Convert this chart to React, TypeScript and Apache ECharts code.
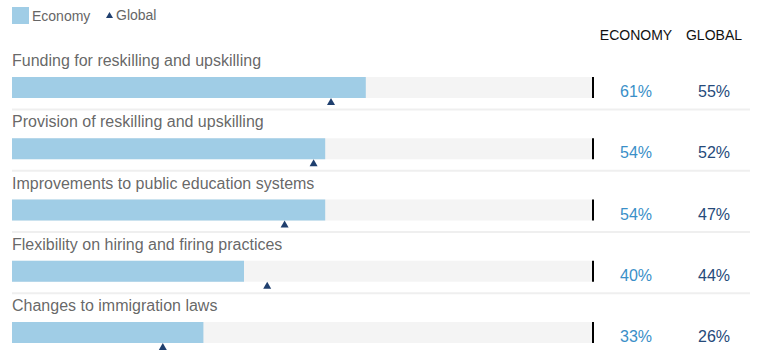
import React, { useEffect, useRef } from "react";
import * as echarts from "echarts";

const categories = [
  "Funding for reskilling and upskilling",
  "Provision of reskilling and upskilling",
  "Improvements to public education systems",
  "Flexibility on hiring and firing practices",
  "Changes to immigration laws",
];
const economyValues = [61, 54, 54, 40, 33];
const globalValues = [55, 52, 47, 44, 26];
const headerLabels = ["ECONOMY", "GLOBAL"];

const FONT = "'Liberation Sans', Arial, Helvetica, sans-serif";

export default function App() {
  const ref = useRef<HTMLDivElement>(null);
  useEffect(() => {
    if (!ref.current) return;
    const chart = echarts.init(ref.current, null, { renderer: "svg" });
    const headers = headerLabels.map((t, i) => ({
      type: "text",
      x: i === 0 ? 636 : 714,
      y: 35,
      style: {
        text: t,
        fill: "#111",
        font: `14px ${FONT}`,
        textAlign: "center",
        textVerticalAlign: "middle",
      },
    }));
    chart.setOption({
      animation: false,
      textStyle: { fontFamily: FONT },
      grid: { left: 12, right: 166, top: 57, height: 306, containLabel: false },
      legend: [
        {
          data: [{ name: "Economy", icon: "rect" }],
          left: 12,
          top: 7,
          padding: 0,
          itemWidth: 17,
          itemHeight: 17,
          itemGap: 0,
          textStyle: { fontSize: 14, color: "#666", fontFamily: FONT, padding: [0, 0, 0, -2] },
          selectedMode: false,
        },
        {
          data: [{ name: "Global", icon: "triangle" }],
          left: 106,
          top: 8,
          padding: 0,
          itemWidth: 7,
          itemHeight: 6,
          textStyle: { fontSize: 14, color: "#666", fontFamily: FONT, padding: [0, 0, 0, -2] },
          selectedMode: false,
        },
      ],
      xAxis: { type: "value", min: 0, max: 100, show: false },
      yAxis: {
        type: "category",
        data: categories,
        inverse: true,
        axisLine: { show: false },
        axisTick: { show: false },
        splitLine: { show: false },
        axisLabel: { show: false },
      },
      graphic: headers,
      series: [
        {
          name: "Economy",
          type: "bar",
          data: economyValues,
          barWidth: 21,
          showBackground: true,
          backgroundStyle: { color: "#f4f4f4" },
          itemStyle: { color: "#a0cde6" },
        },
        {
          name: "Global",
          type: "scatter",
          data: globalValues.map((v, i) => [v, categories[i]]),
          symbol: "triangle",
          symbolSize: [8, 7],
          symbolOffset: [0, 14],
          itemStyle: { color: "#1f3f6e", opacity: 1 },
          z: 6,
        },
        {
          name: "names",
          type: "scatter",
          data: categories.map((c) => [0, c]),
          symbolSize: 0,
          silent: true,
          clip: false,
          label: {
            show: true,
            position: "right",
            distance: 0,
            offset: [0, -27],
            formatter: (p: any) => p.data[1],
            fontSize: 16,
            color: "#404040",
            fontFamily: FONT,
          },
          z: 6,
        },
        {
          name: "ref",
          type: "scatter",
          data: categories.map((c, i) => [100, c, economyValues[i], globalValues[i]]),
          symbol: "rect",
          symbolSize: [2, 21],
          symbolOffset: [1, 0],
          clip: false,
          silent: true,
          itemStyle: { color: "#000", opacity: 1 },
          label: {
            show: true,
            position: "right",
            distance: 6,
            offset: [0, 4],
            formatter: (p: any) => `{e|${p.data[2]}%}{g|${p.data[3]}%}`,
            rich: {
              e: { width: 72, align: "center", fontSize: 16, color: "#3a8fc8", fontFamily: FONT },
              g: { width: 84, align: "center", fontSize: 16, color: "#264a7a", fontFamily: FONT },
            },
          },
          z: 6,
        },
      ],
    });
    const lines = categories.map((c) => {
      const y = chart.convertToPixel({ yAxisIndex: 0 }, c) as number;
      return {
        type: "line",
        shape: { x1: 12, y1: y + 22, x2: 750, y2: y + 22 },
        style: { stroke: "#efefef", lineWidth: 2 },
        silent: true,
      };
    });
    chart.setOption({ graphic: [...headers, ...lines] });
    return () => chart.dispose();
  }, []);
  return (
    <div style={{ width: 758, height: 352, position: "absolute", left: 0, top: 0, overflow: "hidden" }}>
      <div ref={ref} style={{ width: 758, height: 368 }} />
    </div>
  );
}
